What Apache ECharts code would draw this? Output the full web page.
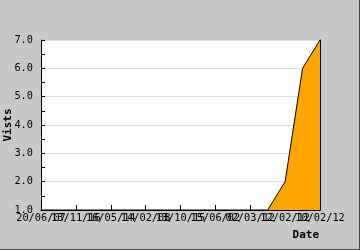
<!DOCTYPE html>
<html>
<head>
<meta charset="utf-8">
<script src="https://cdn.jsdelivr.net/npm/echarts@6/dist/echarts.min.js"></script>
<style>html,body{margin:0;padding:0;background:#c8c8c8;}#c{width:360px;height:250px;}</style>
</head>
<body>
<div id="c"></div>
<script>
var dates = ["20/06/07","05/09/10","13/11/16","21/02/11","16/05/14","07/08/09","14/02/08","03/06/15",
             "13/10/15","22/01/03","15/06/02","11/09/12","02/03/12","25/02/12","12/02/12","11/02/12","10/02/12"];
var visits = [1,1,1,1,1,1,1,1,1,1,1,1,1,1,2,6,7];
var yTicks = {min:1, max:7, interval:1};

var chart = echarts.init(document.getElementById('c'), null, {renderer:'canvas'});
var mono = '"DejaVu Sans Mono", monospace';
chart.setOption({
  backgroundColor:'#c8c8c8',
  animation:false,
  grid:{left:41, right:40, top:40, bottom:40, containLabel:false, outerBoundsMode:'none', show:true, backgroundColor:'#ffffff', borderWidth:0},
  graphic:[
    {type:'rect', shape:{x:359, y:0, width:1, height:250}, style:{fill:'#444'}},
    {type:'rect', shape:{x:0, y:249, width:360, height:1}, style:{fill:'#444'}}
  ],
  xAxis:{
    type:'category', data:dates, boundaryGap:false,
    name:'Date', nameLocation:'end', nameGap:-1, nameMoveOverlap:false,
    nameTextStyle:{fontFamily:mono, fontWeight:'bold', fontSize:11, color:'#000', align:'right', verticalAlign:'top', padding:[20,0,0,0]},
    axisLine:{lineStyle:{color:'#000', width:1}},
    axisTick:{inside:true, length:5, interval:function(i){return i % 2 === 0;}, lineStyle:{color:'#000'}},
    axisLabel:{interval:0, hideOverlap:false, margin:3, fontFamily:mono, fontSize:10.3, color:'#000',
      formatter:function(v, i){return i % 2 === 0 ? v : '';}},
    splitLine:{show:false}
  },
  yAxis:[{
    type:'value', min:yTicks.min, max:yTicks.max, interval:yTicks.interval,
    name:'Vists', nameLocation:'middle', nameGap:27, nameMoveOverlap:false,
    nameTextStyle:{fontFamily:mono, fontWeight:'bold', fontSize:11, color:'#000'},
    axisLine:{show:true, lineStyle:{color:'#000', width:1}},
    axisTick:{show:true, inside:true, length:4, lineStyle:{color:'#000'}},
    minorTick:{show:true, splitNumber:2, length:4, lineStyle:{color:'#000'}},
    axisLabel:{margin:8, showMinLabel:true, showMaxLabel:true, fontFamily:mono, fontSize:10.3, color:'#000', formatter:function(v){return v.toFixed(1);}},
    splitLine:{show:true, lineStyle:{color:'#dcdcdc', width:1}}
  },{
    type:'value', position:'right', min:yTicks.min, max:yTicks.max, interval:yTicks.interval,
    axisLine:{show:true, lineStyle:{color:'#000', width:1}},
    axisTick:{show:false}, axisLabel:{show:false}, splitLine:{show:false}
  }],
  series:[{
    type:'line', data:visits, symbol:'none',
    lineStyle:{color:'#000', width:1},
    areaStyle:{color:'#ffa500', opacity:1},
    z:1
  }]
});
</script>
</body>
</html>
